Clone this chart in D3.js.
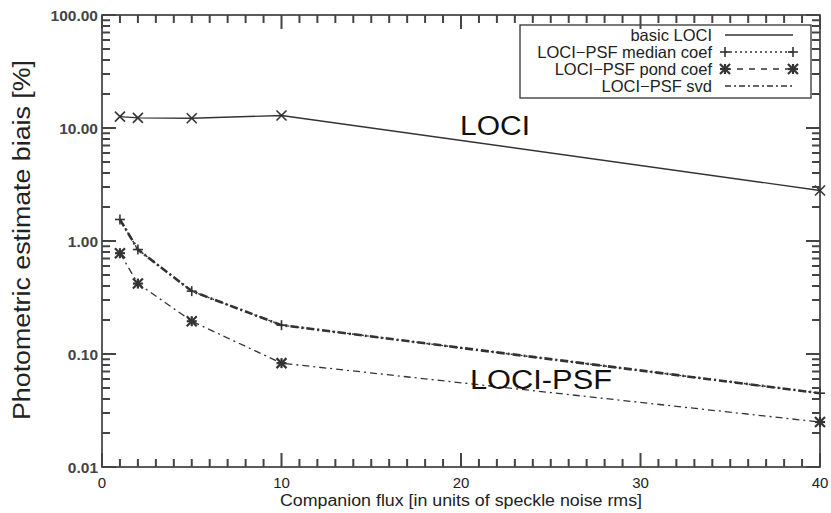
<!DOCTYPE html>
<html>
<head>
<meta charset="utf-8">
<script src="https://cdn.jsdelivr.net/npm/d3@7"></script>
<style>
  body { margin: 0; background: #fff; }
  text { font-family: "Liberation Sans", Arial, sans-serif; fill: #222; }
</style>
</head>
<body>
<svg width="831" height="513"></svg>
<script>
var svg = d3.select("svg"),
    width = +svg.attr("width"),
    height = +svg.attr("height");

// companion flux values
var flux = [1, 2, 5, 10, 40];

// photometric bias in %
var basicLoci = [12.6, 12.3, 12.2, 12.9, 2.8];
var medianCoef = [1.55, 0.84, 0.36, 0.18, 0.045];
var svdCoef = [1.55, 0.84, 0.36, 0.18, 0.045];
var pondCoef = [0.78, 0.42, 0.195, 0.083, 0.025];

var yTickValues = [0.01, 0.1, 1, 10, 100];
var xTickValues = [0, 10, 20, 30, 40];

var legendNames = ["basic LOCI", "LOCI\u2212PSF median coef", "LOCI\u2212PSF pond coef", "LOCI\u2212PSF svd"];

var x = d3.scaleLinear()
    .domain([0, 40])
    .range([102, 820]);

var y = d3.scaleLog()
    .domain([0.01, 100])
    .range([467, 15]);

var ink = "#333";

// frame
svg.append("rect")
    .attr("x", x(0)).attr("y", y(100))
    .attr("width", x(40) - x(0)).attr("height", y(0.01) - y(100))
    .attr("fill", "none").attr("stroke", ink).attr("stroke-width", 1.6);

// tick labels
svg.selectAll(".ylab")
  .data(yTickValues)
  .enter().append("text")
    .attr("x", x(0) - 4)
    .attr("y", function(d) { return y(d) + 6; })
    .attr("text-anchor", "end")
    .attr("font-size", 15.5)
    .attr("font-weight", "bold")
    .style("fill", "#444")
    .text(function(d) { return d3.format(".2f")(d); });

svg.selectAll(".xlab")
  .data(xTickValues)
  .enter().append("text")
    .attr("x", function(d) { return x(d); })
    .attr("y", y(0.01) + 21)
    .attr("text-anchor", "middle")
    .attr("font-size", 15)
    .text(function(d) { return d; });

// axis titles
svg.append("text")
    .attr("x", 280).attr("y", 506)
    .attr("font-size", 16)
    .attr("textLength", 362)
    .attr("lengthAdjust", "spacingAndGlyphs")
    .text("Companion flux [in units of speckle noise rms]");

svg.append("text")
    .attr("transform", "translate(30,420) rotate(-90)")
    .attr("font-size", 23)
    .attr("textLength", 360)
    .attr("lengthAdjust", "spacingAndGlyphs")
    .text("Photometric  estimate biais [%]");

// lines
var line = d3.line()
    .x(function(d) { return x(d[0]); })
    .y(function(d) { return y(d[1]); });

function pairs(vals) {
  return flux.map(function(f, i) { return [f, vals[i]]; });
}

var series = [
  {vals: basicLoci, dash: null, w: 1.4, marker: "x"},
  {vals: svdCoef, dash: "8,3,2,3", w: 2.6, marker: null},
  {vals: medianCoef, dash: "2,3", w: 1.4, marker: "+"},
  {vals: pondCoef, dash: "7,4,2,4", w: 1.3, marker: "*"}
];

series.forEach(function(s) {
  svg.append("path")
      .datum(pairs(s.vals))
      .attr("d", line)
      .attr("fill", "none")
      .attr("stroke", ink)
      .attr("stroke-width", s.w)
      .attr("stroke-dasharray", s.dash);
});

function drawMarker(sel, type, cx, cy) {
  var r = 5;
  var m = sel.append("g").attr("stroke", ink).attr("stroke-width", type === "*" ? 2.2 : 1.6);
  if (type === "x" || type === "*") {
    m.append("line").attr("x1", cx - r).attr("y1", cy - r).attr("x2", cx + r).attr("y2", cy + r);
    m.append("line").attr("x1", cx - r).attr("y1", cy + r).attr("x2", cx + r).attr("y2", cy - r);
  }
  if (type === "+" || type === "*") {
    m.append("line").attr("x1", cx - r).attr("y1", cy).attr("x2", cx + r).attr("y2", cy);
    m.append("line").attr("x1", cx).attr("y1", cy - r).attr("x2", cx).attr("y2", cy + r);
  }
}

series.forEach(function(s) {
  if (!s.marker) return;
  pairs(s.vals).forEach(function(p) {
    drawMarker(svg, s.marker, x(p[0]), y(p[1]));
  });
});

// curve labels
svg.append("text").attr("x", 460).attr("y", 135)
    .attr("font-size", 27).attr("textLength", 70)
    .attr("lengthAdjust", "spacingAndGlyphs")
    .style("fill", "#111").text("LOCI");
svg.append("text").attr("x", 470).attr("y", 389)
    .attr("font-size", 27).attr("textLength", 142)
    .attr("lengthAdjust", "spacingAndGlyphs")
    .style("fill", "#111").text("LOCI-PSF");

// legend
var lg = svg.append("g");
lg.append("rect")
    .attr("x", 520).attr("y", 25).attr("width", 291).attr("height", 73)
    .attr("fill", "#fff").attr("stroke", ink).attr("stroke-width", 1.3);

var legendDash = [null, "2,3", "6,6", "6,3,2,3"];
var legendMarker = [null, "+", "*", null];

legendNames.forEach(function(name, i) {
  var ly = 35 + i * 17;
  lg.append("text")
      .attr("x", 712).attr("y", ly + 5.5)
      .attr("text-anchor", "end")
      .attr("font-size", 16.5)
      .text(name);
  lg.append("line")
      .attr("x1", 725).attr("x2", 793)
      .attr("y1", ly).attr("y2", ly)
      .attr("stroke", ink).attr("stroke-width", 1.3)
      .attr("stroke-dasharray", legendDash[i]);
  if (legendMarker[i]) {
    drawMarker(lg, legendMarker[i], 725, ly);
    drawMarker(lg, legendMarker[i], 793, ly);
  }
});

// inward ticks on all four sides, drawn last so nothing covers them
var xMinor = d3.range(0, 41);
var yMinor = [];
[0.01, 0.1, 1, 10].forEach(function(d) {
  for (var k = 1; k <= 9; k++) yMinor.push(d * k);
});
yMinor.push(100);

function isMajorX(d) { return d % 10 === 0; }
function isMajorY(d) {
  return yTickValues.some(function(t) { return Math.abs(t - d) < t * 1e-6; });
}

svg.selectAll("line.xb")
  .data(xMinor)
  .join("line")
    .attr("class", "xb")
    .attr("x1", function(d) { return x(d); })
    .attr("x2", function(d) { return x(d) + 0.01; })
    .attr("y1", y(0.01))
    .attr("y2", function(d) { return y(0.01) - (isMajorX(d) ? 14 : 8); })
    .attr("stroke", "#444")
    .attr("stroke-width", 2);

svg.selectAll("line.xtop")
  .data(xMinor)
  .join("line")
    .attr("class", "xtop")
    .attr("x1", function(d) { return x(d); })
    .attr("x2", function(d) { return x(d) + 0.01; })
    .attr("y1", y(100))
    .attr("y2", function(d) { return y(100) + (isMajorX(d) ? 14 : 8); })
    .attr("stroke", "#444")
    .attr("stroke-width", 2);

svg.selectAll("line.yl")
  .data(yMinor)
  .join("line")
    .attr("class", "yl")
    .attr("y1", function(d) { return y(d); })
    .attr("y2", function(d) { return y(d) + 0.01; })
    .attr("x1", x(0))
    .attr("x2", function(d) { return x(0) + (isMajorY(d) ? 14 : 8); })
    .attr("stroke", "#444")
    .attr("stroke-width", 2);

svg.selectAll("line.yr")
  .data(yMinor)
  .join("line")
    .attr("class", "yr")
    .attr("y1", function(d) { return y(d); })
    .attr("y2", function(d) { return y(d) + 0.01; })
    .attr("x1", x(40))
    .attr("x2", function(d) { return x(40) - (isMajorY(d) ? 14 : 8); })
    .attr("stroke", "#444")
    .attr("stroke-width", 2);
</script>
</body>
</html>
